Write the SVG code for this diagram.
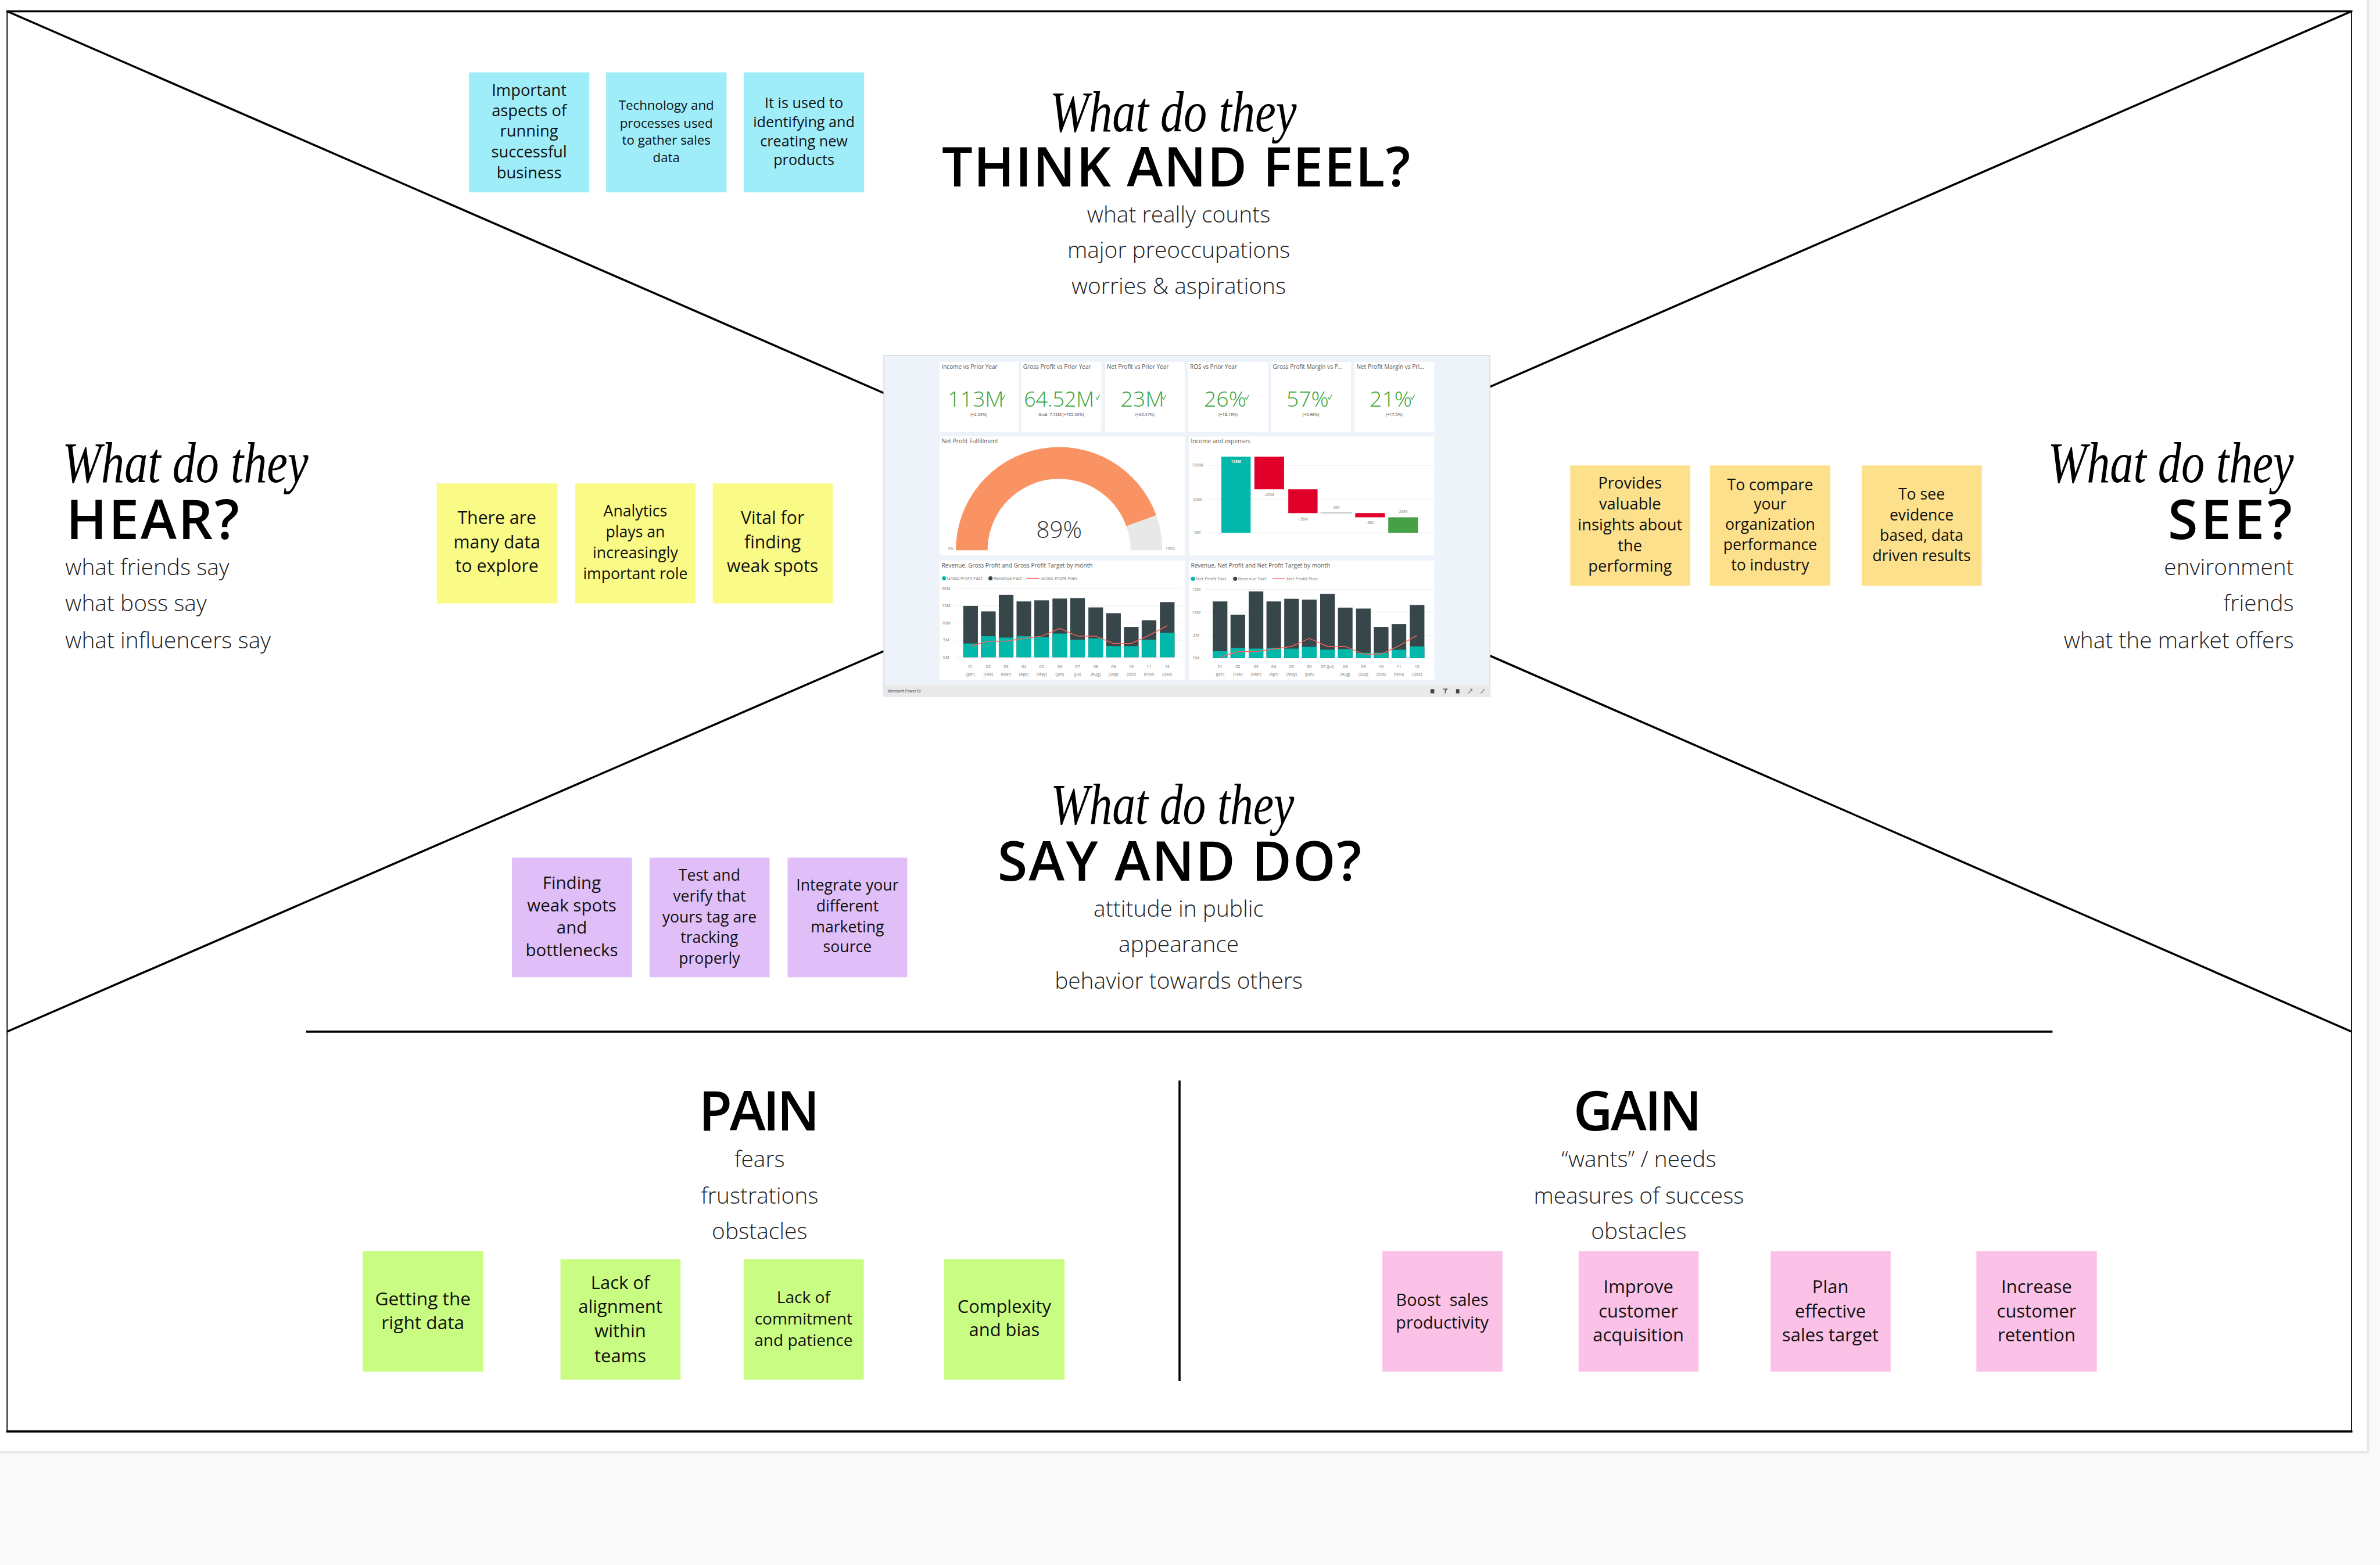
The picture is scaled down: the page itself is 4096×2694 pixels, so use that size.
<svg xmlns="http://www.w3.org/2000/svg" width="4096" height="2694" viewBox="0 0 4096 2694">
<style>
.note{font-family:"Open Sans","Liberation Sans",sans-serif;fill:#111;text-anchor:middle}
.script{font-family:"Liberation Serif","DejaVu Serif",serif;font-style:italic;fill:#000;font-size:138px}
.head{font-family:"Open Sans","Liberation Sans",sans-serif;font-weight:600;fill:#000;font-size:130px}
.sub{font-family:"Open Sans","Liberation Sans",sans-serif;font-weight:300;font-size:54px;fill:#222}
.ln{stroke:#000;stroke-width:5;fill:none;stroke-linecap:butt}
.db{font-family:"Open Sans","Liberation Sans",sans-serif;fill:#555}
.kt{font-size:14px;fill:#555}
.kv{font-size:52px;font-weight:300;fill:#36a336;text-anchor:middle}
.ks{font-size:10px;fill:#444;text-anchor:middle}
.ax{font-size:10px;fill:#777;text-anchor:middle}
.mo{font-size:10px;fill:#777;text-anchor:middle}
.dk{fill:#374649}
.tl{fill:#01b8aa}
.card{fill:#fff}
.grid{stroke:#e6e6e6;stroke-width:1}
.cyan{fill:#9fedf9}
.yel{fill:#fafb86}
.org{fill:#fde08b}
.pur{fill:#e0bff8}
.grn{fill:#c9fc82}
.pnk{fill:#fbc1e6}
</style>
<rect x="0" y="0" width="4096" height="2694" fill="#f9f9f9"/>
<g transform="scale(0.71986)">
  <rect x="0" y="0" width="5664" height="3476" fill="#e8e8e8"/>
  <rect x="0" y="0" width="5658" height="3470" fill="#ffffff"/>
  <g id="frame">
    <line x1="15" y1="27" x2="5624" y2="27" stroke="#000" stroke-width="5"/>
    <line x1="15" y1="3423" x2="5624" y2="3423" stroke="#000" stroke-width="5"/>
    <line x1="17" y1="27" x2="17" y2="3423" stroke="#000" stroke-width="2.5"/>
    <line x1="5622" y1="27" x2="5622" y2="3423" stroke="#000" stroke-width="2.5"/>
  </g>
  <g id="connectors">
    <line class="ln" x1="17" y1="27" x2="2113" y2="940"/>
    <line class="ln" x1="5622" y1="27" x2="3562" y2="925"/>
    <line class="ln" x1="2113" y1="1557" x2="17" y2="2467"/>
    <line class="ln" x1="3562" y1="1568" x2="5622" y2="2467"/>
    <line class="ln" x1="732" y1="2467" x2="4907" y2="2467" stroke-width="6"/>
    <line class="ln" x1="2820" y1="2584" x2="2820" y2="3302" stroke-width="4"/>
  </g>

  <g id="think-feel">
    <text class="script" x="2805" y="314" text-anchor="middle" textLength="590" lengthAdjust="spacingAndGlyphs">What do they</text>
    <text class="head" x="2812" y="446" text-anchor="middle" textLength="1120" lengthAdjust="spacing">THINK AND FEEL?</text>
    <text class="sub" x="2818" y="532" text-anchor="middle">what really counts</text>
    <text class="sub" x="2818" y="617" text-anchor="middle">major preoccupations</text>
    <text class="sub" x="2818" y="703" text-anchor="middle">worries &amp; aspirations</text>
  </g>
  <g id="hear">
    <text class="script" x="149" y="1153" textLength="588" lengthAdjust="spacingAndGlyphs">What do they</text>
    <text class="head" x="158" y="1289" textLength="414" lengthAdjust="spacing">HEAR?</text>
    <text class="sub" x="156" y="1375">what friends say</text>
    <text class="sub" x="156" y="1462">what boss say</text>
    <text class="sub" x="156" y="1550">what influencers say</text>
  </g>
  <g id="see">
    <text class="script" x="5484" y="1153" text-anchor="end" textLength="588" lengthAdjust="spacingAndGlyphs">What do they</text>
    <text class="head" x="5480" y="1289" text-anchor="end" textLength="297" lengthAdjust="spacing">SEE?</text>
    <text class="sub" x="5484" y="1375" text-anchor="end">environment</text>
    <text class="sub" x="5484" y="1462" text-anchor="end">friends</text>
    <text class="sub" x="5484" y="1550" text-anchor="end">what the market offers</text>
  </g>
  <g id="say-do">
    <text class="script" x="2803" y="1970" text-anchor="middle" textLength="582" lengthAdjust="spacingAndGlyphs">What do they</text>
    <text class="head" x="2820" y="2106" text-anchor="middle" textLength="870" lengthAdjust="spacing">SAY AND DO?</text>
    <text class="sub" x="2818" y="2192" text-anchor="middle">attitude in public</text>
    <text class="sub" x="2818" y="2277" text-anchor="middle">appearance</text>
    <text class="sub" x="2818" y="2365" text-anchor="middle">behavior towards others</text>
  </g>
  <g id="pain">
    <text class="head" x="1815" y="2703" text-anchor="middle" textLength="289" lengthAdjust="spacing">PAIN</text>
    <text class="sub" x="1816" y="2791" text-anchor="middle">fears</text>
    <text class="sub" x="1816" y="2878" text-anchor="middle">frustrations</text>
    <text class="sub" x="1816" y="2963" text-anchor="middle">obstacles</text>
  </g>
  <g id="gain">
    <text class="head" x="3915" y="2703" text-anchor="middle" textLength="307" lengthAdjust="spacing">GAIN</text>
    <text class="sub" x="3918" y="2791" text-anchor="middle">“wants” / needs</text>
    <text class="sub" x="3918" y="2878" text-anchor="middle">measures of success</text>
    <text class="sub" x="3918" y="2963" text-anchor="middle">obstacles</text>
  </g>

  <!-- cyan notes -->
  <g id="note-important-aspects">
    <rect class="cyan" x="1121" y="173" width="288" height="287"/>
    <text class="note" font-size="38"><tspan x="1265" y="229">Important</tspan><tspan x="1265" y="278">aspects of</tspan><tspan x="1265" y="327">running</tspan><tspan x="1265" y="377">successful</tspan><tspan x="1265" y="427">business</tspan></text>
  </g>
  <g id="note-technology">
    <rect class="cyan" x="1449" y="173" width="288" height="287"/>
    <text class="note" font-size="31"><tspan x="1593" y="263">Technology and</tspan><tspan x="1593" y="305">processes used</tspan><tspan x="1593" y="346">to gather sales</tspan><tspan x="1593" y="387">data</tspan></text>
  </g>
  <g id="note-used-to-identify">
    <rect class="cyan" x="1778" y="173" width="288" height="287"/>
    <text class="note" font-size="35"><tspan x="1922" y="258">It is used to</tspan><tspan x="1922" y="304">identifying and</tspan><tspan x="1922" y="350">creating new</tspan><tspan x="1922" y="395">products</tspan></text>
  </g>

  <!-- yellow notes -->
  <g id="note-many-data">
    <rect class="yel" x="1044" y="1156" width="289" height="287"/>
    <text class="note" font-size="42"><tspan x="1188" y="1253">There are</tspan><tspan x="1188" y="1312">many data</tspan><tspan x="1188" y="1369">to explore</tspan></text>
  </g>
  <g id="note-analytics">
    <rect class="yel" x="1375" y="1156" width="288" height="287"/>
    <text class="note" font-size="37"><tspan x="1519" y="1235">Analytics</tspan><tspan x="1519" y="1285">plays an</tspan><tspan x="1519" y="1335">increasingly</tspan><tspan x="1519" y="1385">important role</tspan></text>
  </g>
  <g id="note-vital">
    <rect class="yel" x="1704" y="1156" width="287" height="287"/>
    <text class="note" font-size="42"><tspan x="1847" y="1253">Vital for</tspan><tspan x="1847" y="1312">finding</tspan><tspan x="1847" y="1369">weak spots</tspan></text>
  </g>

  <!-- orange notes -->
  <g id="note-provides">
    <rect class="org" x="3754" y="1113" width="287" height="288"/>
    <text class="note" font-size="38"><tspan x="3897" y="1168">Provides</tspan><tspan x="3897" y="1218">valuable</tspan><tspan x="3897" y="1268">insights about</tspan><tspan x="3897" y="1318">the</tspan><tspan x="3897" y="1367">performing</tspan></text>
  </g>
  <g id="note-compare">
    <rect class="org" x="4088" y="1113" width="288" height="288"/>
    <text class="note" font-size="37"><tspan x="4232" y="1173">To compare</tspan><tspan x="4232" y="1218">your</tspan><tspan x="4232" y="1267">organization</tspan><tspan x="4232" y="1316">performance</tspan><tspan x="4232" y="1364">to industry</tspan></text>
  </g>
  <g id="note-evidence">
    <rect class="org" x="4451" y="1113" width="287" height="288"/>
    <text class="note" font-size="37"><tspan x="4594" y="1194">To see</tspan><tspan x="4594" y="1244">evidence</tspan><tspan x="4594" y="1294">based, data</tspan><tspan x="4594" y="1342">driven results</tspan></text>
  </g>

  <!-- purple notes -->
  <g id="note-finding">
    <rect class="pur" x="1224" y="2051" width="287" height="286"/>
    <text class="note" font-size="41"><tspan x="1367" y="2126">Finding</tspan><tspan x="1367" y="2179">weak spots</tspan><tspan x="1367" y="2233">and</tspan><tspan x="1367" y="2286">bottlenecks</tspan></text>
  </g>
  <g id="note-test">
    <rect class="pur" x="1553" y="2051" width="287" height="286"/>
    <text class="note" font-size="37"><tspan x="1696" y="2106">Test and</tspan><tspan x="1696" y="2156">verify that</tspan><tspan x="1696" y="2206">yours tag are</tspan><tspan x="1696" y="2254">tracking</tspan><tspan x="1696" y="2304">properly</tspan></text>
  </g>
  <g id="note-integrate">
    <rect class="pur" x="1883" y="2051" width="286" height="286"/>
    <text class="note" font-size="37"><tspan x="2026" y="2129">Integrate your</tspan><tspan x="2026" y="2179">different</tspan><tspan x="2026" y="2229">marketing</tspan><tspan x="2026" y="2277">source</tspan></text>
  </g>

  <!-- green notes -->
  <g id="note-right-data">
    <rect class="grn" x="867" y="2992" width="288" height="288"/>
    <text class="note" font-size="44"><tspan x="1011" y="3121">Getting the</tspan><tspan x="1011" y="3179">right data</tspan></text>
  </g>
  <g id="note-alignment">
    <rect class="grn" x="1340" y="3011" width="287" height="288"/>
    <text class="note" font-size="43"><tspan x="1483" y="3082">Lack of</tspan><tspan x="1483" y="3140">alignment</tspan><tspan x="1483" y="3198">within</tspan><tspan x="1483" y="3257">teams</tspan></text>
  </g>
  <g id="note-commitment">
    <rect class="grn" x="1778" y="3011" width="287" height="288"/>
    <text class="note" font-size="39"><tspan x="1921" y="3116">Lack of</tspan><tspan x="1921" y="3167">commitment</tspan><tspan x="1921" y="3218">and patience</tspan></text>
  </g>
  <g id="note-complexity">
    <rect class="grn" x="2257" y="3011" width="288" height="288"/>
    <text class="note" font-size="43"><tspan x="2401" y="3140">Complexity</tspan><tspan x="2401" y="3195">and bias</tspan></text>
  </g>

  <!-- pink notes -->
  <g id="note-boost">
    <rect class="pnk" x="3305" y="2992" width="287" height="288"/>
    <text class="note" font-size="40" xml:space="preserve"><tspan x="3448" y="3123">Boost  sales</tspan><tspan x="3448" y="3177">productivity</tspan></text>
  </g>
  <g id="note-acquisition">
    <rect class="pnk" x="3774" y="2992" width="287" height="288"/>
    <text class="note" font-size="43"><tspan x="3917" y="3092">Improve</tspan><tspan x="3917" y="3150">customer</tspan><tspan x="3917" y="3208">acquisition</tspan></text>
  </g>
  <g id="note-sales-target">
    <rect class="pnk" x="4233" y="2992" width="287" height="288"/>
    <text class="note" font-size="43"><tspan x="4376" y="3092">Plan</tspan><tspan x="4376" y="3150">effective</tspan><tspan x="4376" y="3208">sales target</tspan></text>
  </g>
  <g id="note-retention">
    <rect class="pnk" x="4725" y="2992" width="288" height="288"/>
    <text class="note" font-size="43"><tspan x="4869" y="3092">Increase</tspan><tspan x="4869" y="3150">customer</tspan><tspan x="4869" y="3208">retention</tspan></text>
  </g>

  <!-- dashboard -->
  <g id="dashboard" class="db">
    <rect x="2113" y="850" width="1449" height="815" fill="#eef2f9" stroke="#d4d7dc" stroke-width="2"/>
    <rect x="2113" y="1639" width="1449" height="26" fill="#e9e9ea"/>
    <text x="2122" y="1656" font-size="9" fill="#333">Microsoft Power BI</text>
    <rect x="3420" y="1648" width="9" height="10" fill="#444"/>
    <path d="M3450 1648 L3459 1648 L3455 1653 L3455 1658" stroke="#444" stroke-width="2" fill="none"/>
    <rect x="3481" y="1648" width="8" height="10" fill="#444"/>
    <path d="M3510 1658 L3518 1650 M3514 1648 L3519 1648 L3519 1653" stroke="#666" stroke-width="1.5" fill="none"/>
    <path d="M3540 1658 L3549 1648" stroke="#666" stroke-width="1.5" fill="none"/>

    <!-- KPI cards -->
    <rect class="card" x="2246.3" y="865.4" width="188.8" height="167.8"/>
    <rect class="card" x="2441.7" y="865.4" width="191.6" height="167.8"/>
    <rect class="card" x="2641.8" y="865.4" width="190.6" height="167.8"/>
    <rect class="card" x="2840.9" y="865.4" width="190.7" height="167.8"/>
    <rect class="card" x="3039.1" y="865.4" width="190.7" height="167.8"/>
    <rect class="card" x="3238.3" y="865.4" width="190.6" height="167.8"/>
    <text class="kt" x="2251" y="882">Income vs Prior Year</text>
    <text class="kt" x="2446" y="882">Gross Profit vs Prior Year</text>
    <text class="kt" x="2646" y="882">Net Profit vs Prior Year</text>
    <text class="kt" x="2845" y="882">ROS vs Prior Year</text>
    <text class="kt" x="3043" y="882">Gross Profit Margin vs P...</text>
    <text class="kt" x="3243" y="882">Net Profit Margin vs Pri...</text>
    <text class="kv" x="2333" y="973">113M</text>
    <text class="kv" x="2532" y="973" textLength="168" lengthAdjust="spacingAndGlyphs">64.52M</text>
    <text class="kv" x="2731" y="973">23M</text>
    <text class="kv" x="2929" y="973">26%</text>
    <text class="kv" x="3126" y="973">57%</text>
    <text class="kv" x="3325" y="973">21%</text>
    <g stroke="#36a336" stroke-width="1.6" fill="none">
      <path d="M2394 950 L2397 955 L2403 944"/>
      <path d="M2620 950 L2623 955 L2629 944"/>
      <path d="M2779 950 L2782 955 L2788 944"/>
      <path d="M2977 950 L2980 955 L2986 944"/>
      <path d="M3175 950 L3178 955 L3184 944"/>
      <path d="M3373 950 L3376 955 L3382 944"/>
    </g>
    <text class="ks" x="2340" y="995">(+2.54%)</text>
    <text class="ks" x="2537" y="995">Goal: 7.72M (+735.53%)</text>
    <text class="ks" x="2737" y="995">(+20.47%)</text>
    <text class="ks" x="2936" y="995">(+18.18%)</text>
    <text class="ks" x="3134" y="995">(+5.98%)</text>
    <text class="ks" x="3333" y="995">(+17.5%)</text>

    <!-- gauge -->
    <rect class="card" x="2246.3" y="1043.8" width="586.1" height="284.3"/>
    <text class="kt" x="2251" y="1060">Net Profit Fulfillment</text>
    <path d="M2285 1316 A247 247 0 0 1 2764.4 1232.3 L2692.9 1258.1 A171 171 0 0 0 2361 1316 Z" fill="#fa9363"/>
    <path d="M2764.4 1232.3 A247 247 0 0 1 2779 1316 L2703 1316 A171 171 0 0 0 2692.9 1258.1 Z" fill="#e8e8e8"/>
    <text x="2532" y="1287" font-size="56" font-weight="300" fill="#333" text-anchor="middle">89%</text>
    <text x="2273" y="1316" font-size="9" fill="#888" text-anchor="middle">0%</text>
    <text x="2798" y="1316" font-size="9" fill="#888" text-anchor="middle">100%</text>

    <!-- waterfall -->
    <rect class="card" x="2842.8" y="1043.8" width="586.1" height="284.3"/>
    <text class="kt" x="2847" y="1060">Income and expenses</text>
    <line class="grid" x1="2888" y1="1112.6" x2="3426" y2="1112.6"/>
    <line class="grid" x1="2888" y1="1193.6" x2="3426" y2="1193.6"/>
    <line class="grid" x1="2888" y1="1274.1" x2="3426" y2="1274.1"/>
    <text class="ax" x="2863" y="1116">100M</text>
    <text class="ax" x="2863" y="1197">50M</text>
    <text class="ax" x="2863" y="1277">0M</text>
    <rect x="2920" y="1092" width="70" height="182" fill="#01b8aa"/>
    <rect x="2999" y="1092" width="71" height="78" fill="#e0002a"/>
    <rect x="3080" y="1170" width="70" height="57" fill="#e0002a"/>
    <rect x="3157" y="1225" width="76" height="3" fill="#c8c8c8"/>
    <rect x="3240" y="1227" width="71" height="10" fill="#e0002a"/>
    <rect x="3319" y="1237" width="71" height="37" fill="#46a046"/>
    <text x="2955" y="1107" font-size="9" fill="#fff" font-weight="700" text-anchor="middle">113M</text>
    <text class="ax" x="3034" y="1187">-40M</text>
    <text class="ax" x="3115" y="1245">-35M</text>
    <text class="ax" x="3195" y="1217">0M</text>
    <text class="ax" x="3275" y="1253">-6M</text>
    <text class="ax" x="3355" y="1227">23M</text>

    <!-- bottom left chart -->
    <rect class="card" x="2246.3" y="1340.3" width="586.1" height="285.8"/>
    <text class="kt" x="2251" y="1357">Revenue, Gross Profit and Gross Profit Target by month</text>
    <circle cx="2257" cy="1383" r="5" fill="#01b8aa"/>
    <text x="2264" y="1387" font-size="11" fill="#777">Gross Profit Fact</text>
    <circle cx="2368" cy="1383" r="5" fill="#374649"/>
    <text x="2375" y="1387" font-size="11" fill="#777">Revenue Fact</text>
    <line x1="2454" y1="1383" x2="2485" y2="1383" stroke="#fd625e" stroke-width="2"/>
    <text x="2489" y="1387" font-size="11" fill="#777">Gross Profit Plan</text>
    <line class="grid" x1="2284" y1="1407.5" x2="2827" y2="1407.5"/>
    <line class="grid" x1="2284" y1="1448.8" x2="2827" y2="1448.8"/>
    <line class="grid" x1="2284" y1="1489.6" x2="2827" y2="1489.6"/>
    <line class="grid" x1="2284" y1="1530.8" x2="2827" y2="1530.8"/>
    <line class="grid" x1="2284" y1="1571.6" x2="2827" y2="1571.6"/>
    <text class="ax" x="2262" y="1411">20M</text>
    <text class="ax" x="2262" y="1452">15M</text>
    <text class="ax" x="2262" y="1493">10M</text>
    <text class="ax" x="2262" y="1534">5M</text>
    <text class="ax" x="2262" y="1575">0M</text>
    <g>
      <rect class="dk" x="2302.9" y="1448.8" width="35" height="122.8"/><rect class="tl" x="2302.9" y="1538.8" width="35" height="32.8"/>
      <rect class="dk" x="2345.4" y="1462.0" width="35" height="109.6"/><rect class="tl" x="2345.4" y="1521.3" width="35" height="50.3"/>
      <rect class="dk" x="2387.9" y="1422.3" width="35" height="149.3"/><rect class="tl" x="2387.9" y="1524.5" width="35" height="47.1"/>
      <rect class="dk" x="2430.3" y="1438.2" width="35" height="133.4"/><rect class="tl" x="2430.3" y="1521.3" width="35" height="50.3"/>
      <rect class="dk" x="2472.8" y="1435.5" width="35" height="136.1"/><rect class="tl" x="2472.8" y="1524.0" width="35" height="47.6"/>
      <rect class="dk" x="2516.2" y="1431.3" width="35" height="140.3"/><rect class="tl" x="2516.2" y="1515.0" width="35" height="56.6"/>
      <rect class="dk" x="2558.7" y="1430.3" width="35" height="141.3"/><rect class="tl" x="2558.7" y="1529.8" width="35" height="41.8"/>
      <rect class="dk" x="2602.1" y="1452.5" width="35" height="119.1"/><rect class="tl" x="2602.1" y="1526.6" width="35" height="45.0"/>
      <rect class="dk" x="2644.6" y="1466.3" width="35" height="105.3"/><rect class="tl" x="2644.6" y="1545.1" width="35" height="26.5"/>
      <rect class="dk" x="2687.1" y="1499.1" width="35" height="72.5"/><rect class="tl" x="2687.1" y="1545.1" width="35" height="26.5"/>
      <rect class="dk" x="2729.5" y="1483.2" width="35" height="88.4"/><rect class="tl" x="2729.5" y="1529.8" width="35" height="41.8"/>
      <rect class="dk" x="2773.0" y="1439.8" width="35" height="131.8"/><rect class="tl" x="2773.0" y="1513.4" width="35" height="58.2"/>
    </g>
    <polyline points="2320.4,1545.1 2362.9,1533.4 2405.4,1533.4 2447.8,1526.6 2490.3,1521.3 2533.7,1502.8 2576.2,1521.3 2619.6,1521.3 2662.1,1538.8 2704.6,1538.8 2747.0,1519.2 2790.5,1496.4" fill="none" stroke="#fd625e" stroke-width="2"/>
    <g class="mo">
      <text x="2320.4" y="1597">01</text><text x="2362.9" y="1597">02</text><text x="2405.4" y="1597">03</text><text x="2447.8" y="1597">04</text><text x="2490.3" y="1597">05</text><text x="2533.7" y="1597">06</text><text x="2576.2" y="1597">07</text><text x="2619.6" y="1597">08</text><text x="2662.1" y="1597">09</text><text x="2704.6" y="1597">10</text><text x="2747.0" y="1597">11</text><text x="2790.5" y="1597">12</text>
      <text x="2320.4" y="1615">(Jan)</text><text x="2362.9" y="1615">(Feb)</text><text x="2405.4" y="1615">(Mar)</text><text x="2447.8" y="1615">(Apr)</text><text x="2490.3" y="1615">(May)</text><text x="2533.7" y="1615">(Jun)</text><text x="2576.2" y="1615">(Jul)</text><text x="2619.6" y="1615">(Aug)</text><text x="2662.1" y="1615">(Sep)</text><text x="2704.6" y="1615">(Oct)</text><text x="2747.0" y="1615">(Nov)</text><text x="2790.5" y="1615">(Dec)</text>
    </g>

    <!-- bottom right chart -->
    <rect class="card" x="2842.8" y="1340.3" width="586.1" height="285.8"/>
    <text class="kt" x="2847" y="1357">Revenue, Net Profit and Net Profit Target by month</text>
    <circle cx="2852" cy="1384" r="5" fill="#01b8aa"/>
    <text x="2859" y="1388" font-size="11" fill="#777">Net Profit Fact</text>
    <circle cx="2953" cy="1384" r="5" fill="#374649"/>
    <text x="2960" y="1388" font-size="11" fill="#777">Revenue Fact</text>
    <line x1="3042" y1="1384" x2="3072" y2="1384" stroke="#fd625e" stroke-width="2"/>
    <text x="3076" y="1388" font-size="11" fill="#777">Net Profit Plan</text>
    <line class="grid" x1="2879" y1="1409.1" x2="3426" y2="1409.1"/>
    <line class="grid" x1="2879" y1="1463.9" x2="3426" y2="1463.9"/>
    <line class="grid" x1="2879" y1="1519.2" x2="3426" y2="1519.2"/>
    <line class="grid" x1="2879" y1="1573.7" x2="3426" y2="1573.7"/>
    <text class="ax" x="2860" y="1413">15M</text>
    <text class="ax" x="2860" y="1468">10M</text>
    <text class="ax" x="2860" y="1523">5M</text>
    <text class="ax" x="2860" y="1577">0M</text>
    <g>
      <rect class="dk" x="2899.4" y="1438.2" width="35" height="135.5"/><rect class="tl" x="2899.4" y="1557.3" width="35" height="16.4"/>
      <rect class="dk" x="2941.9" y="1470.0" width="35" height="103.7"/><rect class="tl" x="2941.9" y="1549.4" width="35" height="24.3"/>
      <rect class="dk" x="2985.3" y="1414.4" width="35" height="159.3"/><rect class="tl" x="2985.3" y="1551.0" width="35" height="22.7"/>
      <rect class="dk" x="3027.8" y="1438.2" width="35" height="135.5"/><rect class="tl" x="3027.8" y="1549.4" width="35" height="24.3"/>
      <rect class="dk" x="3070.3" y="1431.8" width="35" height="141.9"/><rect class="tl" x="3070.3" y="1551.0" width="35" height="22.7"/>
      <rect class="dk" x="3112.7" y="1434.0" width="35" height="139.7"/><rect class="tl" x="3112.7" y="1546.7" width="35" height="27.0"/>
      <rect class="dk" x="3156.2" y="1420.2" width="35" height="153.5"/><rect class="tl" x="3156.2" y="1553.6" width="35" height="20.1"/>
      <rect class="dk" x="3198.6" y="1453.0" width="35" height="120.7"/><rect class="tl" x="3198.6" y="1552.0" width="35" height="21.7"/>
      <rect class="dk" x="3242.0" y="1455.2" width="35" height="118.5"/><rect class="tl" x="3242.0" y="1561.0" width="35" height="12.7"/>
      <rect class="dk" x="3284.5" y="1499.1" width="35" height="74.6"/><rect class="tl" x="3284.5" y="1561.0" width="35" height="12.7"/>
      <rect class="dk" x="3327.0" y="1492.2" width="35" height="81.5"/><rect class="tl" x="3327.0" y="1553.6" width="35" height="20.1"/>
      <rect class="dk" x="3370.4" y="1446.7" width="35" height="127.0"/><rect class="tl" x="3370.4" y="1545.7" width="35" height="28.0"/>
    </g>
    <polyline points="2916.9,1571.6 2959.4,1558.4 3002.8,1558.4 3045.3,1552.0 3087.8,1545.7 3130.2,1526.6 3173.7,1545.7 3216.1,1545.7 3259.5,1564.2 3302.0,1564.2 3344.5,1544.1 3387.9,1519.2" fill="none" stroke="#fd625e" stroke-width="2"/>
    <g class="mo">
      <text x="2916.9" y="1598">01</text><text x="2959.4" y="1598">02</text><text x="3002.8" y="1598">03</text><text x="3045.3" y="1598">04</text><text x="3087.8" y="1598">05</text><text x="3130.2" y="1598">06</text><text x="3173.7" y="1598">07 (Jul)</text><text x="3216.1" y="1598">08</text><text x="3259.5" y="1598">09</text><text x="3302.0" y="1598">10</text><text x="3344.5" y="1598">11</text><text x="3387.9" y="1598">12</text>
      <text x="2916.9" y="1616">(Jan)</text><text x="2959.4" y="1616">(Feb)</text><text x="3002.8" y="1616">(Mar)</text><text x="3045.3" y="1616">(Apr)</text><text x="3087.8" y="1616">(May)</text><text x="3130.2" y="1616">(Jun)</text><text x="3216.1" y="1616">(Aug)</text><text x="3259.5" y="1616">(Sep)</text><text x="3302.0" y="1616">(Oct)</text><text x="3344.5" y="1616">(Nov)</text><text x="3387.9" y="1616">(Dec)</text>
    </g>
  </g>
</g>
</svg>
